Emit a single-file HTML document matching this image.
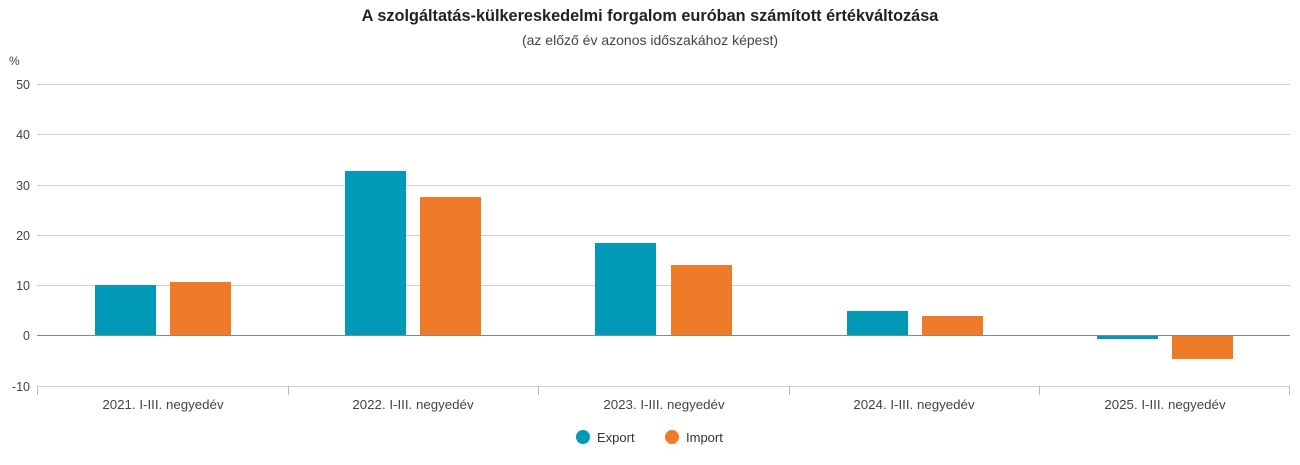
<!DOCTYPE html>
<html><head><meta charset="utf-8"><style>
html,body{margin:0;padding:0;background:#fff;}
svg{display:block;font-family:"Liberation Sans",Arial,sans-serif;}
</style></head><body>
<svg width="1300" height="465" viewBox="0 0 1300 465" xmlns="http://www.w3.org/2000/svg">
<text x="650" y="21" text-anchor="middle" font-size="16.3" font-weight="bold" fill="#222">A szolgáltatás-külkereskedelmi forgalom euróban számított értékváltozása</text>
<text x="650" y="45" text-anchor="middle" font-size="14" fill="#444">(az előző év azonos időszakához képest)</text>
<text x="9" y="65" font-size="12" fill="#444">%</text>
<g stroke="#d0d0d0" stroke-width="1">
<line x1="37" y1="84.5" x2="1290" y2="84.5"/>
<line x1="37" y1="134.5" x2="1290" y2="134.5"/>
<line x1="37" y1="185.5" x2="1290" y2="185.5"/>
<line x1="37" y1="235.5" x2="1290" y2="235.5"/>
<line x1="37" y1="285.5" x2="1290" y2="285.5"/>
<line x1="37" y1="386.5" x2="1290" y2="386.5"/>
</g>
<g font-size="12.5" fill="#444" text-anchor="end">
<text x="30" y="89">50</text><text x="30" y="139">40</text><text x="30" y="190">30</text>
<text x="30" y="240">20</text><text x="30" y="290">10</text><text x="30" y="340">0</text><text x="30" y="391">-10</text>
</g>
<g fill="#0099b8">
<rect x="95" y="285" width="61" height="50"/>
<rect x="345" y="171" width="61" height="164"/>
<rect x="595" y="243" width="61" height="92"/>
<rect x="847" y="311" width="61" height="24"/>
<rect x="1097" y="335" width="61" height="4"/>
</g>
<g fill="#ef7a28">
<rect x="170" y="282" width="61" height="53"/>
<rect x="420" y="197" width="61" height="138"/>
<rect x="671" y="265" width="61" height="70"/>
<rect x="922" y="316" width="61" height="19"/>
<rect x="1172" y="335" width="61" height="24"/>
</g>
<line x1="37" y1="335.5" x2="1290" y2="335.5" stroke="#888" stroke-width="1"/>
<g stroke="#bbb" stroke-width="1">
<line x1="37.5" y1="386" x2="37.5" y2="395"/><line x1="288.5" y1="386" x2="288.5" y2="395"/>
<line x1="538.5" y1="386" x2="538.5" y2="395"/><line x1="789.5" y1="386" x2="789.5" y2="395"/>
<line x1="1039.5" y1="386" x2="1039.5" y2="395"/><line x1="1289.5" y1="386" x2="1289.5" y2="395"/>
</g>
<g font-size="13.3" fill="#444" text-anchor="middle">
<text x="163" y="409">2021. I-III. negyedév</text>
<text x="413" y="409">2022. I-III. negyedév</text>
<text x="664" y="409">2023. I-III. negyedév</text>
<text x="914" y="409">2024. I-III. negyedév</text>
<text x="1165" y="409">2025. I-III. negyedév</text>
</g>
<circle cx="583" cy="437" r="7" fill="#0099b8"/>
<text x="597" y="442" font-size="13" fill="#333">Export</text>
<circle cx="672" cy="437" r="7" fill="#ef7a28"/>
<text x="686" y="442" font-size="13" fill="#333">Import</text>
</svg>
</body></html>
